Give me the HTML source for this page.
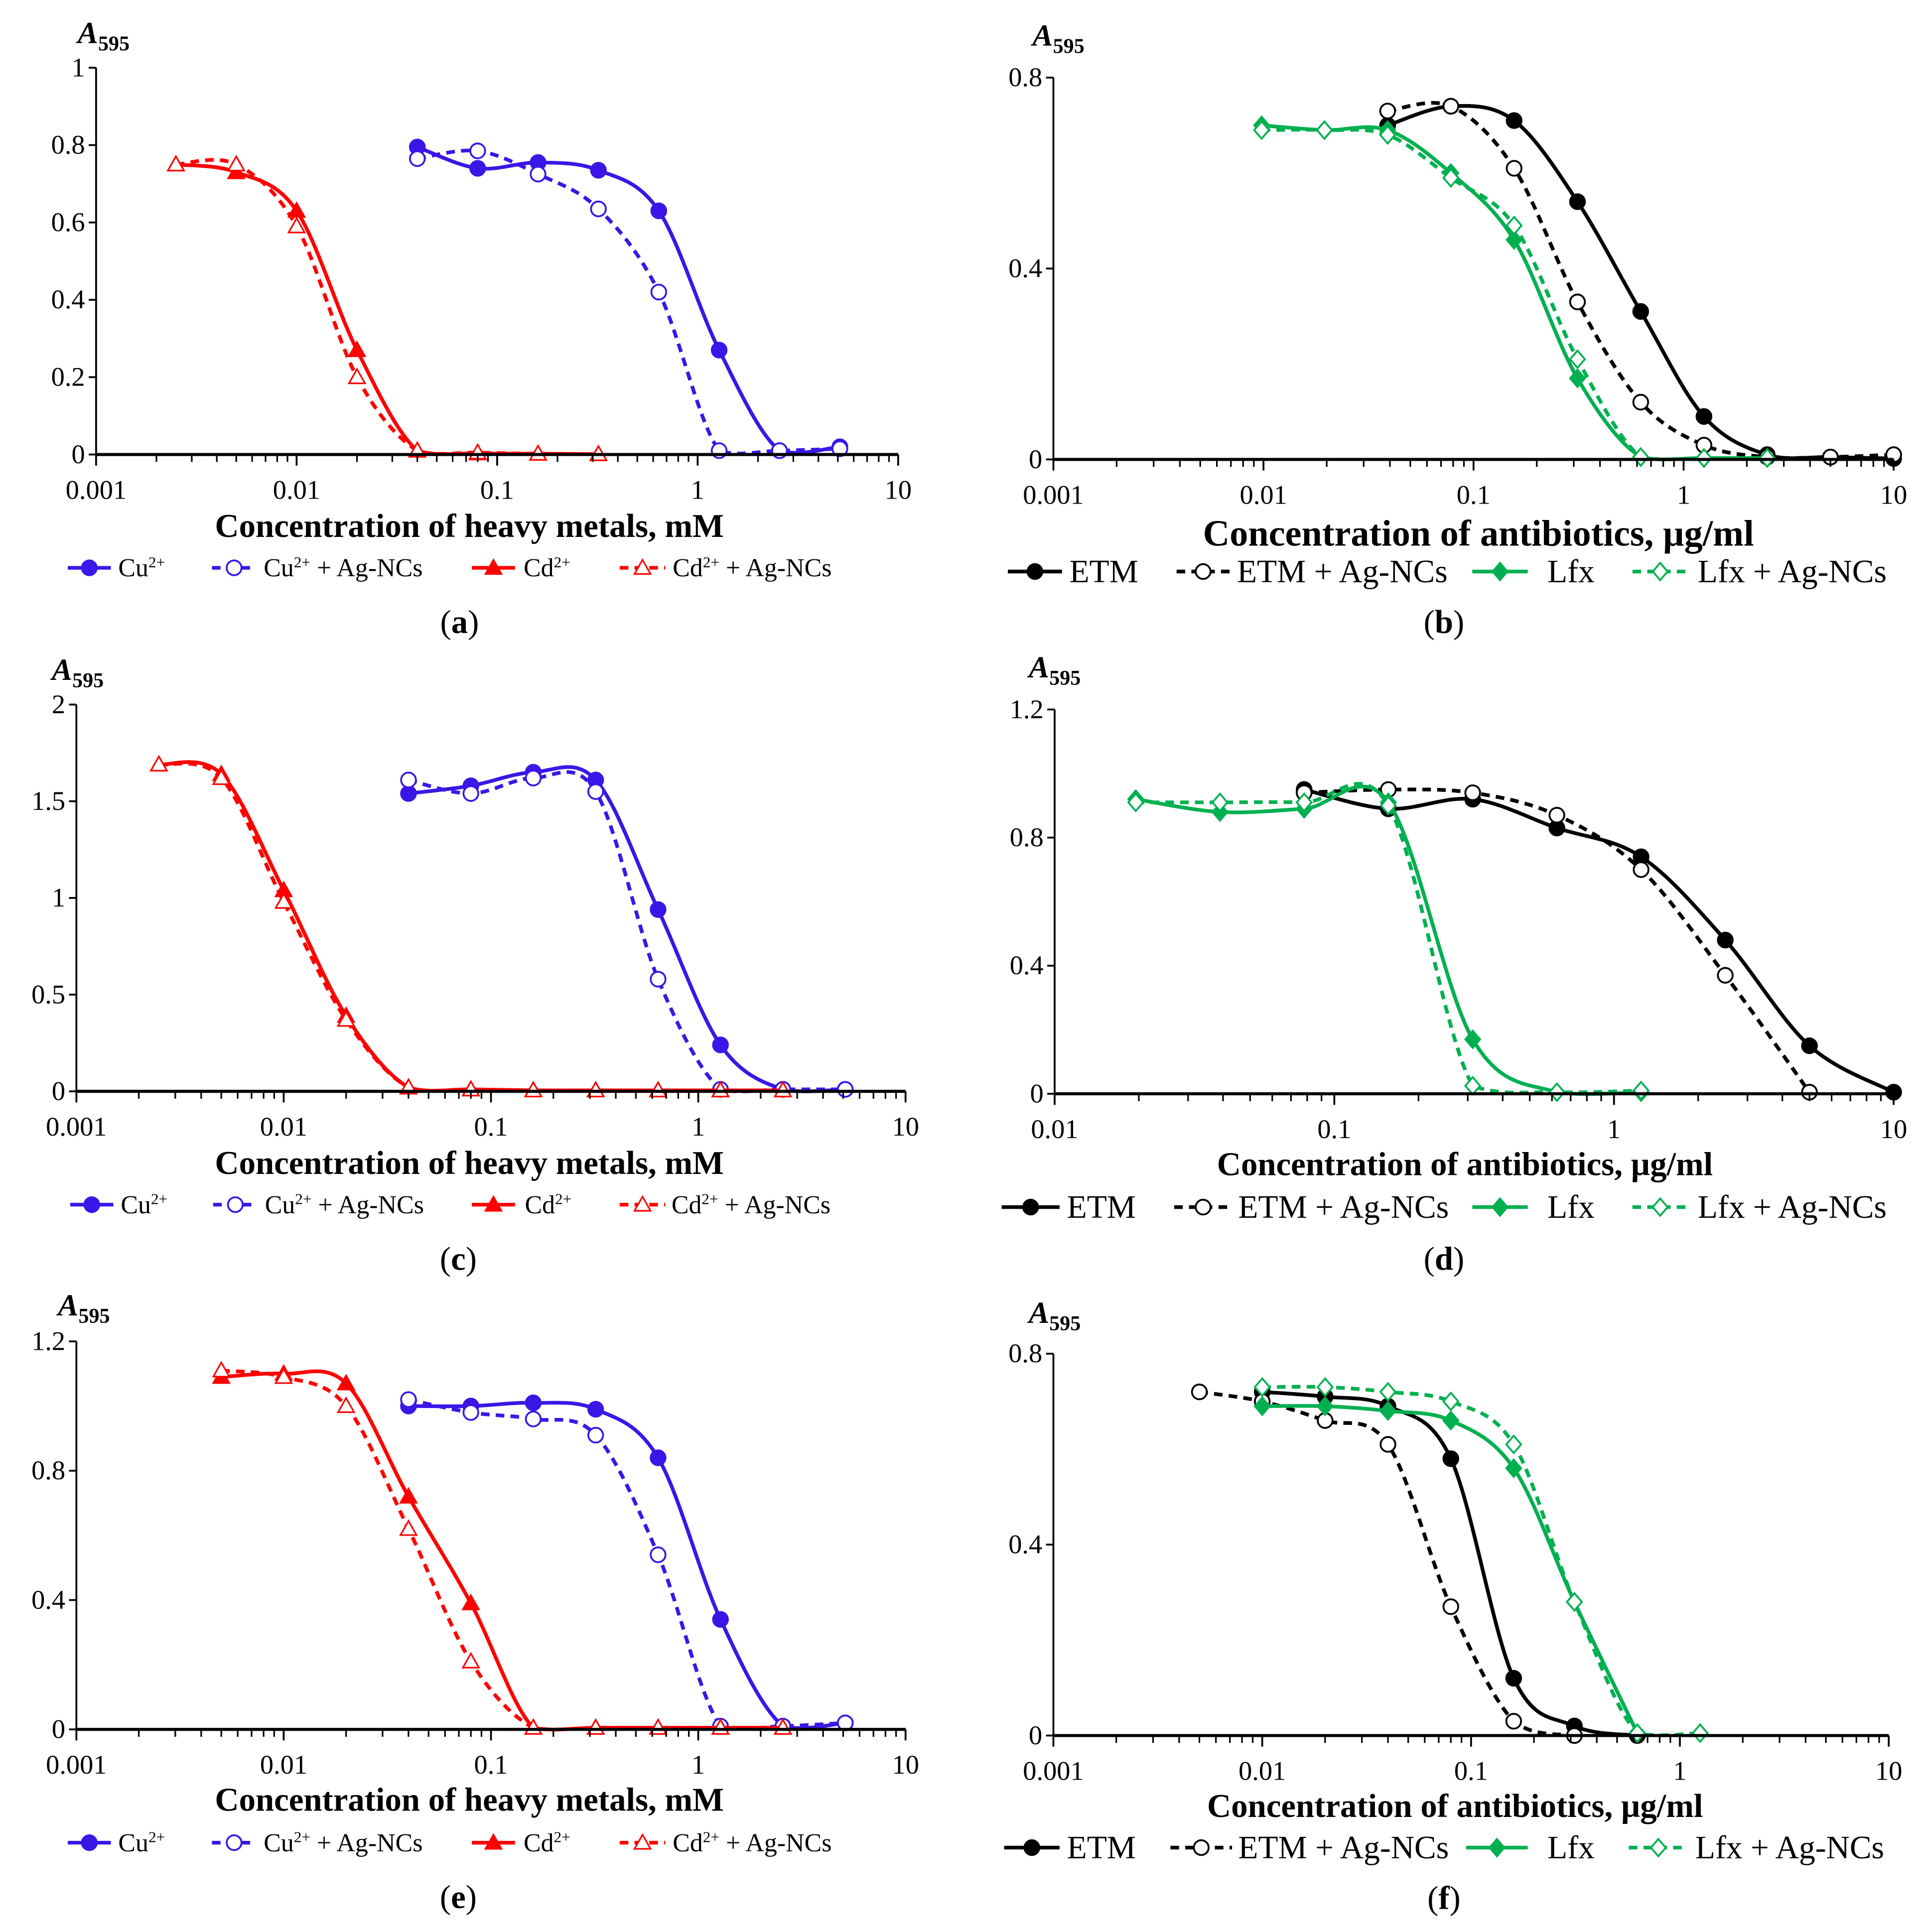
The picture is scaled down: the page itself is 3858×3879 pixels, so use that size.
<!DOCTYPE html>
<html><head><meta charset="utf-8"><style>
html,body{margin:0;padding:0;background:#fff}
svg{display:block}
text{font-family:"Liberation Serif",serif}
</style></head><body>
<svg id="fig" xmlns="http://www.w3.org/2000/svg" width="3858" height="3879" viewBox="0 0 1560 1568.5" preserveAspectRatio="none"></svg>
<script>
// ---- data ----
const cuConc=[0.04,0.08,0.16,0.32,0.64,1.28,2.56,5.12];
const cdConcA=[0.0025,0.005,0.01,0.02,0.04,0.08,0.16,0.32];
const aCu=[0.795,0.74,0.755,0.735,0.63,0.27,0.01,0.02];
const aCuAg=[0.765,0.785,0.725,0.635,0.42,0.01,0.01,0.015];
const aCd=[0.75,0.73,0.63,0.27,0.01,0.003,0.002,0.001];
const aCdAg=[0.75,0.75,0.59,0.20,0.01,0.005,0.002,0.001];

const etmConcB=[0.039,0.078,0.156,0.3125,0.625,1.25,2.5,5,10];
const lfxConcB=[0.0098,0.0195,0.039,0.078,0.156,0.3125,0.625,1.25,2.5];
const bEtm=[0.70,0.74,0.71,0.54,0.31,0.09,0.01,0.005,0.002];
const bEtmAg=[0.73,0.74,0.61,0.33,0.12,0.03,0.005,0.005,0.01];
const bLfx=[0.70,0.69,0.69,0.60,0.46,0.17,0.005,0.003,0.003];
const bLfxAg=[0.69,0.69,0.68,0.59,0.49,0.21,0.005,0.003,0.003];

const cdConcC=[0.0025,0.005,0.01,0.02,0.04,0.08,0.16,0.32,0.64,1.28,2.56];
const cCu=[1.54,1.58,1.65,1.61,0.94,0.24,0.01,0.01];
const cCuAg=[1.61,1.54,1.62,1.55,0.58,0.01,0.01,0.01];
const cCd=[1.69,1.64,1.04,0.39,0.02,0.01,0.005,0.005,0.005,0.005,0.005];
const cCdAg=[1.69,1.62,0.98,0.37,0.02,0.01,0.005,0.005,0.005,0.005,0.005];

const etmConcD=[0.078,0.156,0.3125,0.625,1.25,2.5,5,10];
const etmAgConcD=[0.078,0.156,0.3125,0.625,1.25,2.5,5];
const lfxConcD=[0.0195,0.039,0.078,0.156,0.3125,0.625,1.25];
const dEtm=[0.95,0.89,0.92,0.83,0.74,0.48,0.15,0.005];
const dEtmAg=[0.94,0.95,0.94,0.87,0.70,0.37,0.005];
const dLfx=[0.92,0.88,0.89,0.91,0.17,0.005,0.005];
const dLfxAg=[0.91,0.91,0.91,0.90,0.025,0.005,0.01];

const cdConcE=[0.005,0.01,0.02,0.04,0.08,0.16,0.32,0.64,1.28,2.56];
const eCu=[1.00,1.00,1.01,0.99,0.84,0.34,0.01,0.02];
const eCuAg=[1.02,0.98,0.96,0.91,0.54,0.01,0.01,0.02];
const eCd=[1.09,1.10,1.07,0.72,0.39,0.005,0.005,0.005,0.005,0.005];
const eCdAg=[1.11,1.09,1.00,0.62,0.21,0.005,0.005,0.005,0.005,0.005];

const etmConcF=[0.01,0.02,0.04,0.08,0.16,0.3125,0.625];
const etmAgConcF=[0.005,0.01,0.02,0.04,0.08,0.16,0.3125];
const lfxConcF=[0.01,0.02,0.04,0.08,0.16,0.3125,0.625];
const lfxAgConcF=[0.01,0.02,0.04,0.08,0.16,0.3125,0.625,1.25];
const fEtm=[0.72,0.71,0.69,0.58,0.12,0.02,0.0];
const fEtmAg=[0.72,0.70,0.66,0.61,0.27,0.03,0.0];
const fLfx=[0.69,0.69,0.68,0.66,0.56,0.28,0.005];
const fLfxAg=[0.73,0.73,0.72,0.70,0.61,0.28,0.005,0.005];

const metalTitle="Concentration of heavy metals, mM";
const abTitle="Concentration of antibiotics, \u00b5g/ml";
const BLUE="#3a17e6",RED="#ff0000",BLACK="#000",GREEN="#00b050";

const NS="http://www.w3.org/2000/svg";
const svg=document.getElementById('fig');
function el(tag,attrs,parent,txt){const e=document.createElementNS(NS,tag);for(const k in attrs)e.setAttribute(k,attrs[k]);if(txt!==undefined)e.textContent=txt;(parent||svg).appendChild(e);return e;}

function smooth(pts,ybase){
  if(pts.length<2)return '';
  let d='M'+pts[0][0]+','+pts[0][1];
  const cl=v=>Math.min(v,ybase+2);
  for(let i=0;i<pts.length-1;i++){
    const p0=pts[i-1]||pts[i],p1=pts[i],p2=pts[i+1],p3=pts[i+2]||p2;
    const c1=[p1[0]+(p2[0]-p0[0])/6,cl(p1[1]+(p2[1]-p0[1])/6)];
    const c2=[p2[0]-(p3[0]-p1[0])/6,cl(p2[1]-(p3[1]-p1[1])/6)];
    d+=' C'+c1+' '+c2+' '+p2;
  }
  return d;
}
function marker(g,type,x,y,color){
  const fill=type.startsWith('open')?'#fff':color;
  let m;
  if(type.endsWith('circle'))m=el('circle',{cx:x,cy:y,r:6,fill:fill,stroke:color,'stroke-width':1.5},g);
  else if(type.endsWith('tri'))m=el('path',{d:`M${x},${y-6.5} L${x+6.5},${y+5} L${x-6.5},${y+5}Z`,fill:fill,stroke:color,'stroke-width':1.3},g);
  else m=el('path',{d:`M${x},${y-7} L${x+6},${y} L${x},${y+7} L${x-6},${y}Z`,fill:fill,stroke:color,'stroke-width':1.5},g);
  
  
}

function panel(P){
  const g=el('g',{},svg);
  
  
  const nDec=P.decMax-P.decMin;
  const dw=(P.xR-P.xL)/nDec;
  const X=v=>P.xL+(Math.log10(v)-P.decMin)*dw;
  const Y=v=>P.y0-(v/P.ymax)*(P.y0-P.yTop);
  P.series.forEach(s=>{
    const sg=el('g',{},g);
    
    
    const pts=s.x.map((c,i)=>[X(c),Y(s.y[i])]);
    el('path',{d:smooth(pts,P.y0),fill:'none',stroke:s.color,'stroke-width':3,'stroke-dasharray':s.dash?'7,5':'none'},sg);
    pts.forEach(p=>marker(sg,s.marker,p[0],p[1],s.color));
  });
  const ax=el('g',{},g);
  
  
  el('line',{x1:P.xL,y1:P.yTop,x2:P.xL,y2:P.y0,stroke:'#000','stroke-width':1.5},ax);
  el('line',{x1:P.xL,y1:P.y0,x2:P.xR,y2:P.y0,stroke:'#000','stroke-width':2.5},ax);
  P.yticks.forEach((t,i)=>{
    const y=Y(t);
    el('line',{x1:P.xL-6,y1:y,x2:P.xL,y2:y,stroke:'#000','stroke-width':1.5},ax);
    el('text',{x:P.xL-9,y:y+7,'text-anchor':'end','font-size':22},ax,P.ylabels[i]);
  });
  for(let d=P.decMin;d<=P.decMax;d++){
    const x=P.xL+(d-P.decMin)*dw;
    el('line',{x1:x,y1:P.y0,x2:x,y2:P.y0+9,stroke:'#000','stroke-width':1.5},ax);
    el('text',{x:x,y:P.y0+36,'text-anchor':'middle','font-size':22},ax,P.xlabels[d-P.decMin]);
    if(d<P.decMax)for(let k=2;k<=9;k++){const xx=x+Math.log10(k)*dw;el('line',{x1:xx,y1:P.y0,x2:xx,y2:P.y0+6,stroke:'#000','stroke-width':1.3},ax);}
  }
  const yt=el('text',{x:P.ax,y:P.ay,'font-size':25,'font-weight':'bold','font-style':'italic'},g);
  
  
  el('tspan',{},yt,'A');
  el('tspan',{dy:6,'font-size':17,'font-style':'normal'},yt,'595');
  const xt=el('text',{x:P.titleX,y:P.titleY,'text-anchor':'middle','font-size':P.titleFs,'font-weight':'bold'},g,P.title);
  
  
  const lg=el('g',{},g);
  
  
  P.legend.forEach((L,i)=>{
    const s=P.series[i];
    const eg=el('g',{},lg);
    
    
    el('line',{x1:L[0],y1:P.legY,x2:L[1],y2:P.legY,stroke:s.color,'stroke-width':3,'stroke-dasharray':s.dash?'7,5':'none'},eg);
    marker(eg,s.marker,(L[0]+L[1])/2,P.legY,s.color);
    const t=el('text',{x:L[2],y:P.legY+P.legFs*0.33,'font-size':P.legFs},eg);
    if(s.label.sup){el('tspan',{},t,s.label.a);el('tspan',{dy:-P.legFs*0.35,'font-size':P.legFs*0.6},t,'2+');el('tspan',{dy:P.legFs*0.35},t,s.label.b);}
    else t.textContent=s.label.a;
  });
  const cap=el('text',{x:P.capX,y:P.capY,'text-anchor':'middle','font-size':27},g);
  
  
  el('tspan',{},cap,'(');el('tspan',{'font-weight':'bold'},cap,P.id);el('tspan',{},cap,')');
}
const decLbl=["0.001","0.01","0.1","1","10"];
function metalSeries(cuY,cuAgY,cdX,cdY,cdAgY){return [
 {name:'cu',x:cuConc,y:cuY,color:BLUE,marker:'circle',dash:false,label:{sup:1,a:'Cu',b:''}},
 {name:'cu-ag',x:cuConc,y:cuAgY,color:BLUE,marker:'opencircle',dash:true,label:{sup:1,a:'Cu',b:' + Ag-NCs'}},
 {name:'cd',x:cdX,y:cdY,color:RED,marker:'tri',dash:false,label:{sup:1,a:'Cd',b:''}},
 {name:'cd-ag',x:cdX,y:cdAgY,color:RED,marker:'opentri',dash:true,label:{sup:1,a:'Cd',b:' + Ag-NCs'}}];}
function abSeries(ex,ey,eax,eay,lx,ly,lax,lay){return [
 {name:'etm',x:ex,y:ey,color:BLACK,marker:'circle',dash:false,label:{a:'ETM'}},
 {name:'etm-ag',x:eax,y:eay,color:BLACK,marker:'opencircle',dash:true,label:{a:'ETM + Ag-NCs'}},
 {name:'lfx',x:lx,y:ly,color:GREEN,marker:'diamond',dash:false,label:{a:'Lfx'}},
 {name:'lfx-ag',x:lax,y:lay,color:GREEN,marker:'opendiamond',dash:true,label:{a:'Lfx + Ag-NCs'}}];}

panel({id:'a',xL:78,xR:729,decMin:-3,decMax:1,y0:369,yTop:55,ymax:1,yticks:[0,0.2,0.4,0.6,0.8,1],ylabels:["0","0.2","0.4","0.6","0.8","1"],xlabels:decLbl,
 ax:63,ay:35,title:metalTitle,titleX:381,titleFs:27,titleY:436,legY:461,legFs:21,capX:373,capY:514,
 series:metalSeries(aCu,aCuAg,cdConcA,aCd,aCdAg),legend:[[55,90,96],[172,208,214],[383,418,425],[503,540,546]]});
panel({id:'b',xL:855,xR:1537,decMin:-3,decMax:1,y0:373,yTop:63,ymax:0.8,yticks:[0,0.4,0.8],ylabels:["0","0.4","0.8"],xlabels:decLbl,
 ax:838,ay:37,title:abTitle,titleX:1200,titleFs:30,titleY:443,legY:464,legFs:26.5,capX:1172,capY:514,
 series:abSeries(etmConcB,bEtm,etmConcB,bEtmAg,lfxConcB,bLfx,lfxConcB,bLfxAg),legend:[[818,862,868],[955,998,1004],[1195,1240,1256],[1325,1370,1378]]});
panel({id:'c',xL:62,xR:735,decMin:-3,decMax:1,y0:886,yTop:572,ymax:2,yticks:[0,0.5,1,1.5,2],ylabels:["0","0.5","1","1.5","2"],xlabels:decLbl,
 ax:42,ay:552,title:metalTitle,titleX:381,titleFs:27,titleY:953,legY:978,legFs:21,capX:372,capY:1031,
 series:metalSeries(cCu,cCuAg,cdConcC,cCd,cCdAg),legend:[[57,92,98],[173,209,215],[383,418,426],[503,540,545]]});
panel({id:'d',xL:856,xR:1537,decMin:-2,decMax:1,y0:888,yTop:576,ymax:1.2,yticks:[0,0.4,0.8,1.2],ylabels:["0","0.4","0.8","1.2"],xlabels:["0.01","0.1","1","10"],
 ax:835,ay:550,title:abTitle,titleX:1189,titleFs:27,titleY:954,legY:980,legFs:26.5,capX:1172,capY:1031,
 series:abSeries(etmConcD,dEtm,etmAgConcD,dEtmAg,lfxConcD,dLfx,lfxConcD,dLfxAg),legend:[[813,860,866],[953,1000,1005],[1195,1240,1256],[1325,1370,1378]]});
panel({id:'e',xL:62,xR:735,decMin:-3,decMax:1,y0:1404,yTop:1089,ymax:1.2,yticks:[0,0.4,0.8,1.2],ylabels:["0","0.4","0.8","1.2"],xlabels:decLbl,
 ax:47,ay:1068,title:metalTitle,titleX:381,titleFs:27,titleY:1470,legY:1496,legFs:21,capX:372,capY:1549,
 series:metalSeries(eCu,eCuAg,cdConcE,eCd,eCdAg),legend:[[55,90,96],[172,208,214],[383,418,425],[503,540,546]]});
panel({id:'f',xL:855,xR:1533,decMin:-3,decMax:1,y0:1409,yTop:1099,ymax:0.8,yticks:[0,0.4,0.8],ylabels:["0","0.4","0.8"],xlabels:decLbl,
 ax:835,ay:1074,title:abTitle,titleX:1181,titleFs:27,titleY:1475,legY:1500,legFs:26.5,capX:1172,capY:1550,
 series:abSeries(etmConcF,fEtm,etmAgConcF,fEtmAg,lfxConcF,fLfx,lfxAgConcF,fLfxAg),legend:[[815,860,866],[950,1000,1005],[1190,1240,1256],[1322,1370,1376]]});
</script>
</body></html>
